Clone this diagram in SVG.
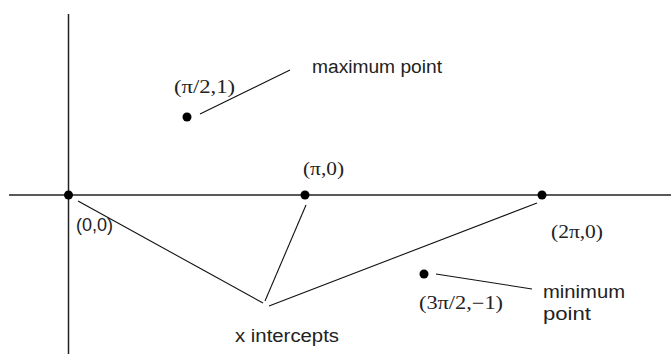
<svg xmlns="http://www.w3.org/2000/svg" width="671" height="354" viewBox="0 0 671 354">
<style>
.ax{stroke:#222;stroke-width:1.5;fill:none}
.ln{stroke:#111;stroke-width:1.1;fill:none}
.dot{fill:#000}
.sans{font-family:"Liberation Sans",Arial,sans-serif;font-size:18px;fill:#222}
.serif{font-family:"Liberation Serif","Times New Roman",serif;font-size:18px;fill:#222}
</style>
<rect width="671" height="354" fill="#fff"/>
<g id="axes">
<line class="ax" x1="68.5" y1="14" x2="68.5" y2="354"/>
<line class="ax" x1="9" y1="195" x2="671" y2="195"/>
</g>
<g id="connectors">
<line class="ln" x1="200" y1="114" x2="290" y2="70"/>
<line class="ln" x1="436" y1="274" x2="532" y2="289"/>
<line class="ln" x1="78" y1="201" x2="263" y2="303"/>
<line class="ln" x1="306" y1="205" x2="265" y2="301"/>
<line class="ln" x1="269" y1="306" x2="537" y2="203"/>
</g>
<g id="origin">
<circle class="dot" cx="68.5" cy="195" r="4.5"/>
<text class="sans" x="76" y="231" textLength="37" lengthAdjust="spacingAndGlyphs">(0,0)</text>
</g>
<g id="pi">
<circle class="dot" cx="305" cy="195" r="4.5"/>
<text class="serif" x="303" y="175" textLength="41" lengthAdjust="spacingAndGlyphs">(π,0)</text>
</g>
<g id="twopi">
<circle class="dot" cx="542" cy="195" r="4.5"/>
<text class="serif" x="551" y="238" textLength="52" lengthAdjust="spacingAndGlyphs">(2π,0)</text>
</g>
<g id="max">
<circle class="dot" cx="187" cy="117" r="4.5"/>
<text class="serif" x="174" y="93" textLength="61" lengthAdjust="spacingAndGlyphs">(π/2,1)</text>
</g>
<g id="min">
<circle class="dot" cx="424" cy="274" r="4.5"/>
<text class="serif" x="419" y="309" textLength="84" lengthAdjust="spacingAndGlyphs">(3π/2,−1)</text>
</g>
<g id="max-label">
<text class="sans" x="312" y="73" textLength="130" lengthAdjust="spacingAndGlyphs">maximum point</text>
</g>
<g id="min-label">
<text class="sans" x="543" y="298" textLength="82" lengthAdjust="spacingAndGlyphs">minimum</text>
<text class="sans" x="543" y="320" textLength="48" lengthAdjust="spacingAndGlyphs">point</text>
</g>
<g id="xint-label">
<text class="sans" x="235" y="342" textLength="104" lengthAdjust="spacingAndGlyphs">x intercepts</text>
</g>
</svg>
